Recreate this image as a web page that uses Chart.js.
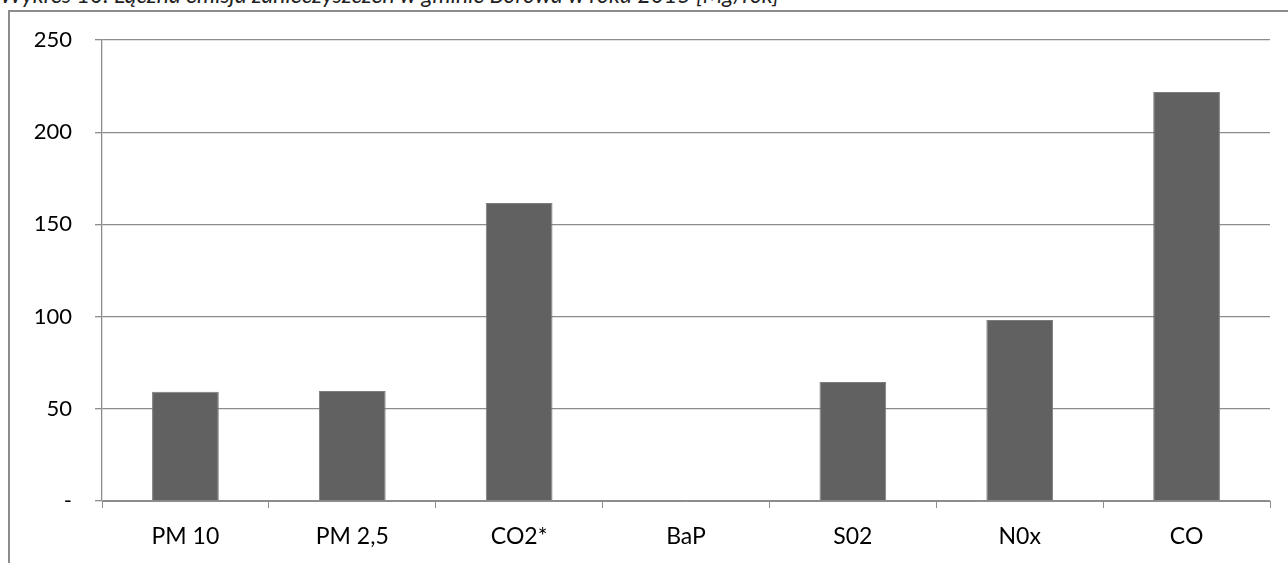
<!DOCTYPE html>
<html>
<head>
<meta charset="utf-8">
<script src="https://cdn.jsdelivr.net/npm/chart.js@4/dist/chart.umd.min.js"></script>
<style>
  body { margin: 0; background: #fff; overflow: hidden; }
  #wrap { position: relative; width: 1288px; height: 563px; overflow: hidden; }
  #title { position: absolute; left: 0; top: -17px; font: italic 23px/23px Lato, sans-serif; color: #222; white-space: nowrap; }
  #frame { position: absolute; left: 8px; top: 10px; width: 1290px; height: 560px;
           border-left: 2px solid #8c8c8c; border-top: 2px solid #8c8c8c; }
  canvas { position: absolute; left: 0; top: 0; }
</style>
</head>
<body>
<div id="wrap">
  <div id="title">Wykres 10. Łączna emisja zanieczyszczeń w gminie Borowa w roku 2015 [Mg/rok]</div>
  <div id="frame"></div>
  <canvas id="chart" width="1288" height="563"></canvas>
</div>
<script>
// dane z wykresu (Mg/rok)
var categories = ['PM 10', 'PM 2,5', 'CO2*', 'BaP', 'S02', 'N0x', 'CO'];
var emissions = [59.2, 59.6, 161.6, 0, 64.6, 98.2, 221.8];
var yTicks = [0, 50, 100, 150, 200, 250];

var gridGray = '#8c8c8c';

var ctx = document.getElementById('chart');
var chart = new Chart(ctx, {
	type: 'bar',
	data: {
		labels: categories,
		datasets: [{
			data: emissions,
			backgroundColor: '#616161',
			borderColor: '#7d7d7d',
			borderWidth: 1,
			borderSkipped: 'bottom',
			categoryPercentage: 1,
			barPercentage: 0.4
		}]
	},
	options: {
		responsive: false,
		animation: false,
		layout: { padding: { top: 40, right: 18, left: 0, bottom: 0 } },
		plugins: {
			legend: { display: false },
			tooltip: { enabled: false }
		},
		scales: {
			x: {
				grid: { display: true, drawOnChartArea: false, drawTicks: true, tickLength: 7, color: gridGray, offset: true },
				border: { color: gridGray, width: 1 },
				ticks: { color: '#000', font: { family: 'Lato', size: 23 }, padding: 15 },
				afterFit: function(scale) { scale.height = 62; }
			},
			y: {
				min: 0,
				max: 250,
				afterBuildTicks: function(scale) {
					scale.ticks = yTicks.map(function(v) { return { value: v }; });
				},
				grid: { color: gridGray, lineWidth: 1.3, tickLength: 7 },
				border: { color: gridGray, width: 1.3 },
				ticks: {
					color: '#000',
					font: { family: 'Lato', size: 22 },
					padding: 23,
					callback: function(v) { return v === 0 ? '-' : v; }
				},
				afterFit: function(scale) { scale.width = 102; }
			}
		}
	}
});
</script>
</body>
</html>
